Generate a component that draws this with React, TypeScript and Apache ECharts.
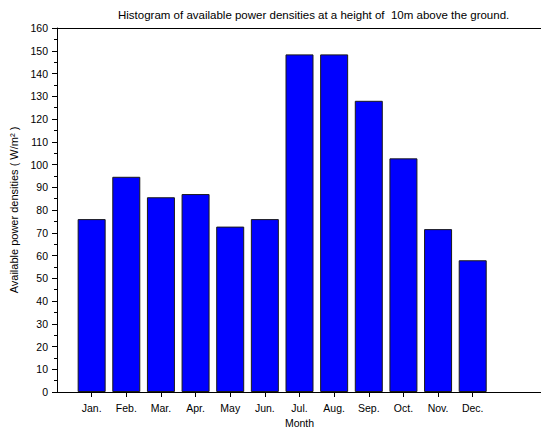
import React, { useEffect, useRef } from "react";
import * as echarts from "echarts";

const months = ["Jan.", "Feb.", "Mar.", "Apr.", "May", "Jun.", "Jul.", "Aug.", "Sep.", "Oct.", "Nov.", "Dec."];
const powerDensities = [76, 94.6, 85.6, 87, 72.7, 76, 148.4, 148.4, 128, 102.7, 71.6, 57.9];
const yTicks = { min: 0, max: 160, interval: 10 };
const xRange = { min: 0, max: 14 };

const titleText = "Histogram of available power densities at a height of  10m above the ground.";
const yName = "Available power densities ( W/m\u00B2 )";
const xName = "Month";

const FONT = "'Liberation Sans', Arial, Helvetica, sans-serif";

export default function App() {
  const ref = useRef<HTMLDivElement>(null);
  useEffect(() => {
    if (!ref.current) return;
    const chart = echarts.init(ref.current, undefined, { renderer: "svg" });
    const monthIdx = months.map((_, i) => i + 1);
    chart.setOption({
      animation: false,
      backgroundColor: "#ffffff",
      title: {
        text: titleText,
        left: 113,
        top: 4,
        textStyle: { fontFamily: FONT, fontSize: 11.5, fontWeight: "normal", color: "#000" },
      },
      grid: { left: 57, top: 28, bottom: 38, right: -1, containLabel: false, outerBoundsMode: "none" },
      xAxis: [
        {
          type: "value",
          min: xRange.min,
          max: xRange.max,
          interval: 1,
          name: xName,
          nameLocation: "middle",
          nameGap: 25,
          nameTextStyle: { fontFamily: FONT, fontSize: 10.5, color: "#000" },
          axisLine: { show: true, onZero: false, lineStyle: { color: "#000", width: 1 } },
          axisTick: { show: true, length: 5, lineStyle: { color: "#000" }, customValues: monthIdx },
          axisLabel: {
            customValues: monthIdx,
            margin: 10,
            fontFamily: FONT,
            fontSize: 10.5,
            color: "#000",
            formatter: (v: number) => months[Math.round(v) - 1] ?? "",
          },
          splitLine: { show: false },
        },
        {
          type: "value",
          position: "top",
          min: xRange.min,
          max: xRange.max,
          axisLine: { show: true, onZero: false, lineStyle: { color: "#000", width: 1 } },
          axisTick: { show: false },
          axisLabel: { show: false },
          splitLine: { show: false },
        },
      ],
      yAxis: {
        type: "value",
        min: yTicks.min,
        max: yTicks.max,
        interval: yTicks.interval,
        name: yName,
        nameLocation: "middle",
        nameGap: 31,
        nameTextStyle: { fontFamily: FONT, fontSize: 11, color: "#000" },
        axisLine: { show: true, lineStyle: { color: "#000", width: 1 } },
        axisTick: { show: true, length: 5, lineStyle: { color: "#000" } },
        minorTick: { show: true, splitNumber: 2, length: 3, lineStyle: { color: "#000" } },
        axisLabel: { margin: 9, fontFamily: FONT, fontSize: 10.5, color: "#000" },
        splitLine: { show: false },
      },
      series: [
        {
          type: "bar",
          xAxisIndex: 0,
          barWidth: 28,
          data: powerDensities.map((v, i) => [i + 1, v]),
          itemStyle: { color: "#0000ff", borderColor: "#1a1a1a", borderWidth: 1 },
        },
      ],
    });
    return () => chart.dispose();
  }, []);
  return (
    <div
      ref={ref}
      style={{ position: "fixed", left: 0, top: 0, width: 541, height: 430, background: "#fff" }}
    />
  );
}
